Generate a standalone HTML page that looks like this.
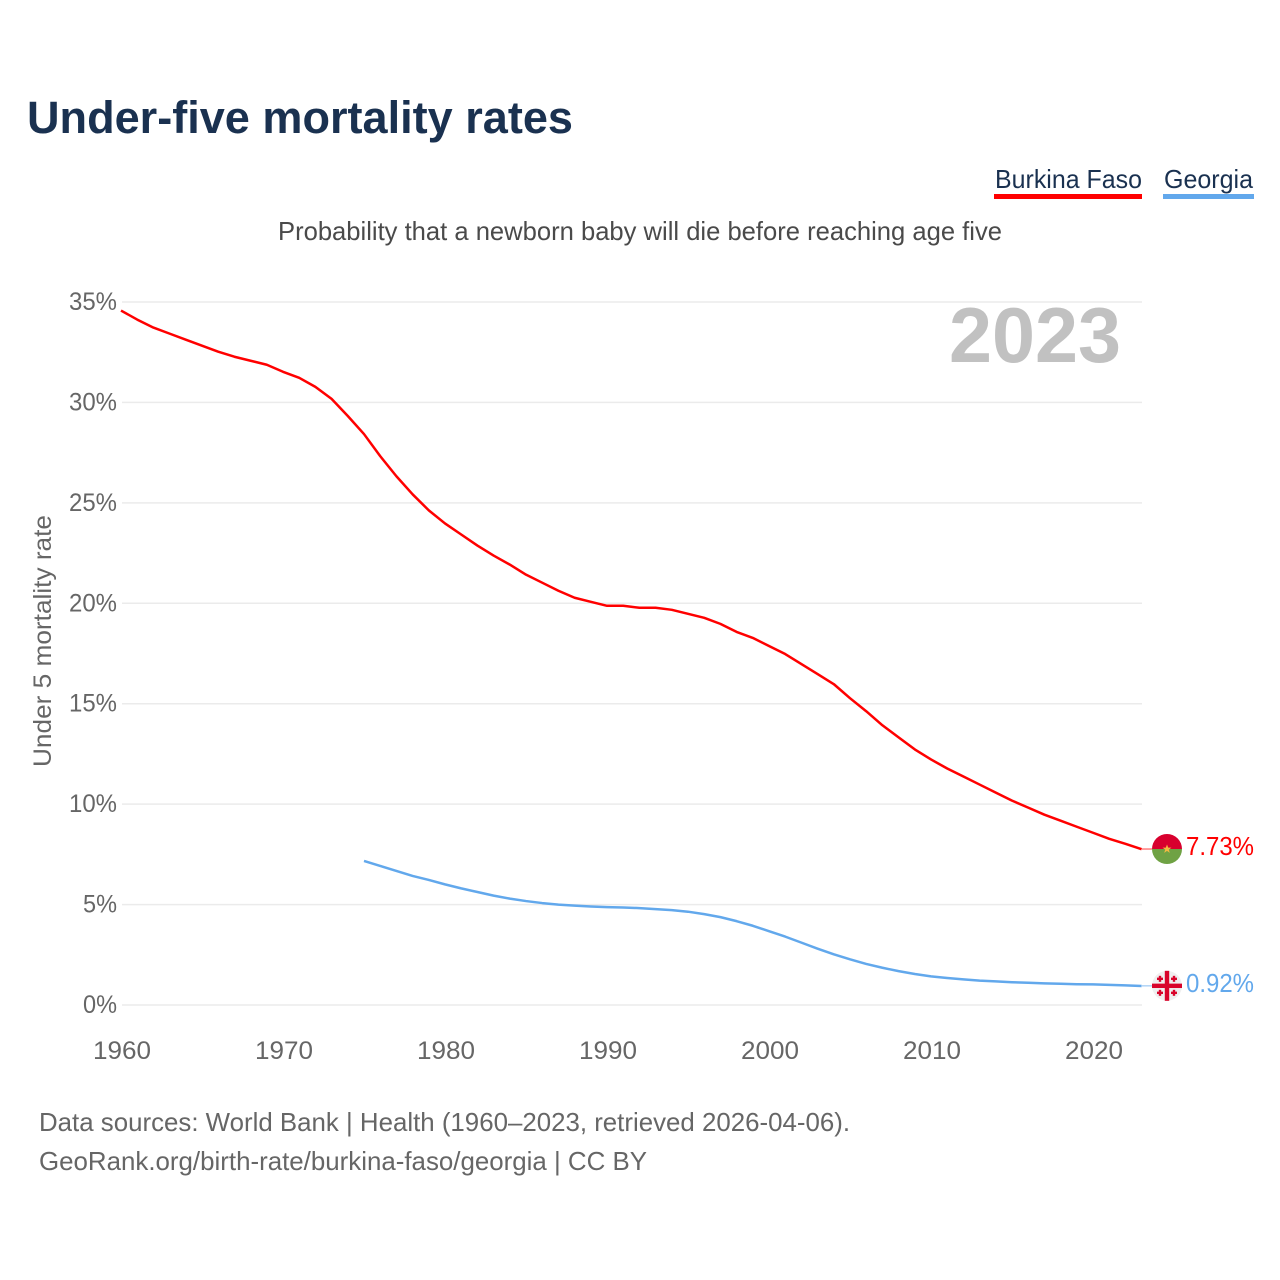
<!DOCTYPE html>
<html lang="en">
<head>
<meta charset="utf-8">
<title>Under-five mortality rates</title>
<style>
html,body{margin:0;padding:0;background:#fff}
svg{display:block;font-family:"Liberation Sans",sans-serif}
</style>
</head>
<body>
<svg id="chart" xmlns="http://www.w3.org/2000/svg" width="1280" height="1280" viewBox="0 0 1280 1280">
<rect width="1280" height="1280" fill="#fff"/>
<text x="27" y="133" font-size="45" font-weight="700" fill="#1a3150" textLength="546" lengthAdjust="spacingAndGlyphs">Under-five mortality rates</text>
<g>
<text x="995" y="188" font-size="26" fill="#1a3150" textLength="147" lengthAdjust="spacingAndGlyphs">Burkina Faso</text>
<rect x="994" y="194" width="148" height="5" fill="#ff0000"/>
</g>
<g>
<text x="1164" y="188" font-size="26" fill="#1a3150" textLength="89" lengthAdjust="spacingAndGlyphs">Georgia</text>
<rect x="1163" y="194" width="91" height="5" fill="#62a8ec"/>
</g>
<text x="278" y="240" font-size="26" fill="#4a4a4a" textLength="724" lengthAdjust="spacingAndGlyphs">Probability that a newborn baby will die before reaching age five</text>
<g id="grid"></g>
<g id="yTicks"></g>
<g id="xTicks"></g>
<text x="1121" y="362" text-anchor="end" font-size="78" font-weight="700" fill="#c1c1c1" textLength="172" lengthAdjust="spacingAndGlyphs">2023</text>
<text transform="translate(51 767) rotate(-90)" font-size="25" fill="#666" textLength="252" lengthAdjust="spacingAndGlyphs">Under 5 mortality rate</text>
<g id="series"></g>
<g id="markers"></g>
<text x="39" y="1131" font-size="26" fill="#666" textLength="811" lengthAdjust="spacingAndGlyphs">Data sources: World Bank | Health (1960–2023, retrieved 2026-04-06).</text>
<text x="39" y="1170" font-size="26" fill="#666" textLength="608" lengthAdjust="spacingAndGlyphs">GeoRank.org/birth-rate/burkina-faso/georgia | CC BY</text>
</svg>
<script>
const yTickValues = [0, 5, 10, 15, 20, 25, 30, 35];
const xTickValues = [1960, 1970, 1980, 1990, 2000, 2010, 2020];
const burkinaStartYear = 1960;
const burkinaValues = [34.55,34.1,33.7,33.4,33.1,32.8,32.5,32.25,32.05,31.85,31.5,31.2,30.75,30.15,29.3,28.4,27.3,26.3,25.4,24.6,23.95,23.4,22.85,22.35,21.9,21.4,21.0,20.6,20.25,20.05,19.85,19.85,19.75,19.75,19.65,19.45,19.25,18.95,18.55,18.25,17.85,17.45,16.95,16.45,15.95,15.25,14.6,13.9,13.3,12.7,12.2,11.75,11.35,10.95,10.55,10.15,9.8,9.45,9.15,8.85,8.55,8.25,8.0,7.73];
const georgiaStartYear = 1975;
const georgiaValues = [7.15,6.9,6.65,6.4,6.2,5.98,5.78,5.6,5.42,5.27,5.15,5.05,4.97,4.92,4.88,4.85,4.83,4.8,4.75,4.7,4.62,4.5,4.35,4.15,3.92,3.65,3.38,3.08,2.78,2.5,2.25,2.02,1.83,1.66,1.52,1.4,1.32,1.25,1.19,1.15,1.11,1.08,1.05,1.03,1.01,1.0,0.98,0.95,0.92];

const NS = 'http://www.w3.org/2000/svg';
const xScale = year => 122 + (year - 1960) * 16.2;
const yScale = value => 1005 - value * 20.086;
const lineX = year => xScale(year) - 1;
const lineY = value => yScale(value) - 0.5;
function make(tag, attrs, parent, text) {
  const el = document.createElementNS(NS, tag);
  for (const k in attrs) el.setAttribute(k, attrs[k]);
  if (text !== undefined) el.textContent = text;
  parent.appendChild(el);
  return el;
}
const grid = document.getElementById('grid');
const yTicks = document.getElementById('yTicks');
const xTicks = document.getElementById('xTicks');
const series = document.getElementById('series');
const markers = document.getElementById('markers');

yTickValues.forEach(v => {
  const line = make('line', {x1: 122, x2: 1142, y1: yScale(v), y2: yScale(v), stroke: '#ebebeb', 'stroke-width': 1.5}, grid);
  
  
  const label = v + '%';
  const t = make('text', {x: 117, y: yScale(v) + 8, 'text-anchor': 'end', 'font-size': 25, fill: '#666', textLength: label.length === 2 ? 34 : 48, lengthAdjust: 'spacingAndGlyphs'}, yTicks, label);
  
  
});
xTickValues.forEach(y => {
  const t = make('text', {x: xScale(y), y: 1059, 'text-anchor': 'middle', 'font-size': 25, fill: '#666', textLength: 58, lengthAdjust: 'spacingAndGlyphs'}, xTicks, String(y));
  
  
});
function drawLine(values, start, color) {
  const d = values.map((v, i) => (i ? 'L' : 'M') + lineX(start + i).toFixed(2) + ' ' + lineY(v).toFixed(2)).join(' ');
  return make('path', {d: d, fill: 'none', stroke: color, 'stroke-width': 2.5, 'stroke-linejoin': 'round'}, series);
}
const burkinaLine = drawLine(burkinaValues, burkinaStartYear, '#ff0000');


const georgiaLine = drawLine(georgiaValues, georgiaStartYear, '#62a8ec');



function endGroup(value, color) {
  const cy = yScale(value) - 0.7;
  const g = make('g', {}, markers);
  make('line', {x1: 1142, x2: 1152, y1: cy, y2: cy, stroke: color, 'stroke-width': 1.5, opacity: 0.5}, g);
  const t = make('text', {x: 1254, y: cy + 6, 'text-anchor': 'end', 'font-size': 26, fill: color, textLength: 68, lengthAdjust: 'spacingAndGlyphs'}, g, value.toFixed(2) + '%');
  
  
  return {g: g, cy: cy};
}
const bEnd = endGroup(burkinaValues[burkinaValues.length - 1], '#ff0000');


const bFlag = make('g', {transform: 'translate(1167 ' + bEnd.cy + ')'}, bEnd.g);


make('path', {d: 'M-15 0A15 15 0 0 1 15 0Z', fill: '#d8002e'}, bFlag);
make('path', {d: 'M-15 0A15 15 0 0 0 15 0Z', fill: '#6fa244'}, bFlag);
make('polygon', {points: '0,-4.5 1.2,-1.4 4.4,-1.4 1.8,0.6 2.8,3.8 0,1.9 -2.8,3.8 -1.8,0.6 -4.4,-1.4 -1.2,-1.4', fill: '#f4b942'}, bFlag);

const gEnd = endGroup(georgiaValues[georgiaValues.length - 1], '#62a8ec');


const gFlag = make('g', {transform: 'translate(1167 ' + gEnd.cy + ')'}, gEnd.g);


make('circle', {r: 15, fill: '#efefef'}, gFlag);
make('rect', {x: -2.2, y: -15, width: 4.4, height: 30, fill: '#d9042b'}, gFlag);
make('rect', {x: -15, y: -2.2, width: 30, height: 4.4, fill: '#d9042b'}, gFlag);
[[-7, -7], [7, -7], [-7, 7], [7, 7]].forEach(p => {
  make('rect', {x: p[0] - 3, y: p[1] - 1.2, width: 6, height: 2.4, fill: '#d9042b'}, gFlag);
  make('rect', {x: p[0] - 1.2, y: p[1] - 3, width: 2.4, height: 6, fill: '#d9042b'}, gFlag);
});
</script>
</body>
</html>
